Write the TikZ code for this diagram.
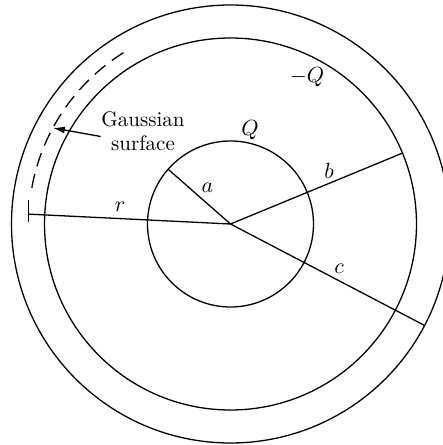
\documentclass[tikz,border=0pt]{standalone}
\usepackage{amsmath}
\usepackage{tikz}
\usetikzlibrary{positioning,arrows.meta,calc}

\begin{document}
\begin{tikzpicture}[x=0.5pt,y=0.5pt,line width=0.65pt,font=\fontsize{10.5}{12}\selectfont]
\useasboundingbox (-230.5,-221) rectangle (212.5,224);
\clip (-230.5,-221) rectangle (212.5,224);
\coordinate (O) at (0,0);
% sphere and shell
\draw (O) circle[radius=83];
\draw (O) circle[radius=186];
\draw (O) circle[radius=219];
% radii a, b, c, r
\coordinate (A) at (138.7:83);
\coordinate (B) at (22.4:186);
\coordinate (C) at (-27.6:219);
\coordinate (R) at (177.2:202);
\draw (O) -- (A);
\draw (O) -- (B);
\draw (O) -- (C);
\draw (O) -- (R);
\draw ($(R)+(0,14)$) -- ($(R)+(0,-8)$);
% Gaussian surface (dashed)
\draw[dash pattern=on 7pt off 4pt] (122:202) arc[start angle=122,end angle=170.5,radius=202];
\coordinate (GA) at (151.6:202);
\node[align=center,inner sep=0pt] (gs) at (-87.5,92.5) {Gaussian\\surface};
\draw[-{Latex[length=6pt,width=3.5pt]}] ([yshift=-2.5pt]gs.west) -- (GA);
% labels
\node (la) at (-23,36) {$a$};
\node (lb) at (98.5,53) {$b$};
\node (lc) at (108.5,-45) {$c$};
\node (lr) at (-110.5,17) {$r$};
\node (lq) at (19.5,94) {$Q$};
\node (lmq) at (76.5,147) {$-Q$};
\end{tikzpicture}
\end{document}
